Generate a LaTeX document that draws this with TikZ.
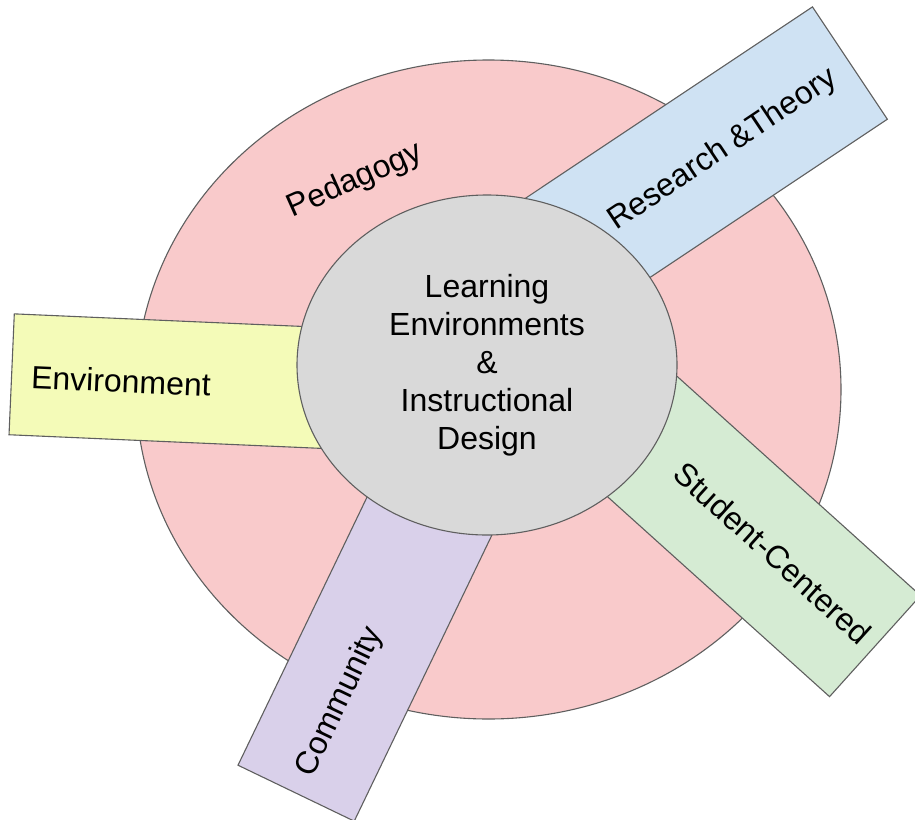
\documentclass[tikz,border=0pt]{standalone}
\usepackage{fontspec}
\setmainfont{Liberation Sans}
\usetikzlibrary{shapes.geometric}
\definecolor{pinkfill}{HTML}{F9CACB}
\definecolor{grayfill}{HTML}{D9D9D9}
\definecolor{bluefill}{HTML}{CFE2F3}
\definecolor{greenfill}{HTML}{D5EBD3}
\definecolor{purplefill}{HTML}{D9D0EA}
\definecolor{yellowfill}{HTML}{F4FBB8}
\definecolor{edge}{HTML}{5F5F5F}
\tikzset{
  shapeline/.style={draw=edge, line width=1.1pt, inner sep=0pt, outer sep=0pt},
  armbox/.style={shapeline, rectangle, minimum width=#1},
  lbl/.style={font=\fontsize{32}{38}\selectfont, inner sep=0pt, text=black},
}
\begin{document}
\begin{tikzpicture}[x=1pt,y=-1pt]
\useasboundingbox (0,0) rectangle (915,819);
% outer ring
\node[shapeline, ellipse, fill=pinkfill, minimum width=705, minimum height=659] (ring) at (488.5,389.5) {};
% arms
\node[armbox=330, minimum height=121, fill=yellowfill, rotate=-2.5] (envbox) at (176.5,381.5) {};
\node[armbox=400, minimum height=135, fill=bluefill, rotate=33.7] (resbox) at (683.5,174) {};
\node[armbox=350, minimum height=136, fill=greenfill, rotate=-42] (stubox) at (745,529) {};
\node[armbox=350, minimum height=129, fill=purplefill, rotate=64.3] (combox) at (372,635.5) {};
% core
\node[shapeline, ellipse, fill=grayfill, minimum width=380, minimum height=340] (core) at (487,365) {};
\node[lbl, align=center] (coretext) at (487,365) {Learning\\Environments\\\&\\Instructional\\Design};
% labels
\node[lbl, rotate=24] (pedlabel) at (355,181) {Pedagogy};
\node[lbl, rotate=-2.5] (envlabel) at (121,381) {Environment};
\node[lbl, rotate=33.7] (reslabel) at (723,150) {Research \&Theory};
\node[lbl, rotate=-42] (stulabel) at (773,553) {Student-Centered};
\node[lbl, rotate=64.3] (comlabel) at (340,702) {Community};
\end{tikzpicture}
\end{document}
